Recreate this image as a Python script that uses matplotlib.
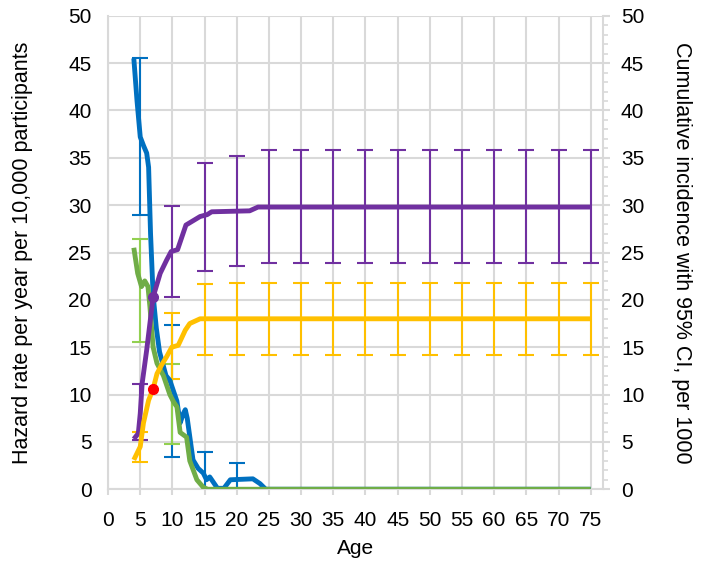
import matplotlib
matplotlib.use('Agg')
import matplotlib.pyplot as plt
import numpy as np

plt.rcParams['font.family'] = ['Liberation Sans', 'DejaVu Sans']
plt.rcParams['font.size'] = 15

# hazard rate, boys (blue) and girls (green)
blue_x = [4, 4.5, 5, 5.5, 6, 6.3, 6.6, 7, 7.5, 8, 9, 9.6, 10.7, 11.2, 11.7, 12, 12.3,
          13.2, 14, 14.8, 15.3, 15.8, 16.3, 17, 18, 19, 22.5, 23.6, 24.5, 75]
blue_y = [45.5, 41, 37.2, 36.3, 35.5, 34, 27, 20.5, 17, 14.5, 12, 11.5, 9.3, 7, 8, 8.4, 7.5,
          3.1, 2.2, 1.7, 1.0, 1.3, 0.8, 0.1, 0.1, 1.0, 1.1, 0.6, 0, 0]
green_x = [4, 4.6, 5.2, 5.7, 6.2, 6.5, 7, 7.6, 8.6, 9.6, 10.2, 10.7, 11.2, 12.2, 12.7,
           13.8, 14.8, 15.5, 75]
green_y = [25.5, 22.8, 21.4, 22, 21.4, 19.3, 15, 13.3, 12, 10, 9.2, 8.7, 6, 5.5, 3,
           1, 0.2, 0, 0]

# cumulative incidence (purple, yellow)
purple_x = [4, 4.7, 5, 5.3, 6, 7, 8.1, 9.1, 9.8, 10.8, 12.1, 14.3, 15.4, 16.1, 22, 23.3, 75]
purple_y = [5.3, 5.9, 8, 11.2, 14.7, 20.3, 22.8, 24.2, 25.1, 25.3, 27.9, 28.8, 29, 29.3,
            29.4, 29.8, 29.8]
yellow_x = [4, 5, 5.5, 6.3, 7, 7.6, 8.3, 9.1, 9.9, 10.9, 12, 12.7, 14.3, 75]
yellow_y = [3.1, 4.5, 7, 9.4, 10.6, 12.2, 13.1, 14, 15, 15.2, 16.8, 17.5, 18, 18]

# confidence intervals
blue_ci_x = [5, 10, 15, 20]
blue_lo = [29, 3.4, 0, 0]
blue_hi = [45.5, 17.3, 3.9, 2.8]
green_ci_x = [5, 10]
green_lo = [15.5, 4.8]
green_hi = [26.4, 13.2]
ci_x = list(range(5, 80, 5))
purple_lo = [5.2, 20.3, 23.0, 23.6] + [23.9] * 11
purple_hi = [11.1, 29.9, 34.5, 35.2] + [35.8] * 11
yellow_lo = [2.9, 11.6, 14.2, 14.2] + [14.2] * 11
yellow_hi = [6.0, 18.6, 21.7, 21.8] + [21.8] * 11

# highlighted points at age 7
dot_x = 7
dot_purple = 20.3
dot_red = 10.6

c_blue = '#0070C0'
c_green = '#70AD47'
c_green_ci = '#92D050'
c_purple = '#7030A0'
c_yellow = '#FFC000'
c_grid = '#D9D9D9'

fig, ax = plt.subplots(figsize=(7.11, 5.63), dpi=100)
fig.subplots_adjust(left=0.152, right=0.848, top=0.972, bottom=0.131)


def ci(x, lo, hi, color):
    lo = np.array(lo)
    hi = np.array(hi)
    ax.errorbar(x, (lo + hi) / 2, yerr=(hi - lo) / 2, fmt='none', ecolor=color,
                elinewidth=1.5, capsize=6, capthick=1.5, zorder=2)


ci(blue_ci_x, blue_lo, blue_hi, c_blue)
ci(green_ci_x, green_lo, green_hi, c_green_ci)
ci(ci_x, purple_lo, purple_hi, c_purple)
ci(ci_x, yellow_lo, yellow_hi, c_yellow)

lw = 3.5
ax.plot(blue_x, blue_y, color=c_blue, lw=lw, zorder=3, solid_capstyle='butt')
ax.plot(green_x, green_y, color=c_green, lw=lw, zorder=3, solid_capstyle='butt')
ax.plot(purple_x, purple_y, color=c_purple, lw=lw, zorder=3, solid_capstyle='butt')
ax.plot(yellow_x, yellow_y, color=c_yellow, lw=lw, zorder=3, solid_capstyle='butt')
ax.plot(dot_x, dot_purple, 'o', color=c_purple, ms=7, zorder=4)
ax.plot(dot_x, dot_red, 'o', color='red', ms=7, zorder=4)

ax.set_xlim(0, 76.9)
ax.set_ylim(0, 50)
ax.set_xticks(np.arange(0, 80, 5))
ax.set_yticks(np.arange(0, 55, 5))
ax.grid(True, color=c_grid, lw=1.5)
ax.set_axisbelow(True)
for s in ['top', 'right']:
    ax.spines[s].set_visible(False)
for s in ['left', 'bottom']:
    ax.spines[s].set_color(c_grid)
    ax.spines[s].set_linewidth(1.5)
ax.tick_params(axis='x', length=4.5, width=1.5, color=c_grid, pad=11, labelsize=15)
ax.tick_params(axis='y', length=0, pad=12, labelsize=15)
ax.set_xlabel('Age', fontsize=15, labelpad=7)
ax.set_ylabel('Hazard rate per year per 10,000 participants', fontsize=15.5, labelpad=25)

ax2 = ax.twinx()
ax2.set_ylim(0, 50)
ax2.set_yticks(np.arange(0, 55, 5))
ax2.set_yticks(np.arange(0, 51, 1), minor=True)
for s in ['top', 'left', 'bottom']:
    ax2.spines[s].set_visible(False)
ax2.spines['right'].set_color(c_grid)
ax2.spines['right'].set_linewidth(1.5)
ax2.tick_params(axis='y', which='major', length=5, width=1.5, color=c_grid, pad=8,
                labelsize=15)
ax2.tick_params(axis='y', which='minor', length=3.5, color=c_grid, width=1.2)
ax2.set_ylabel('Cumulative incidence with 95% CI, per 1000', fontsize=15.5,
               rotation=270, labelpad=34)

plt.savefig('out.png', dpi=100)
